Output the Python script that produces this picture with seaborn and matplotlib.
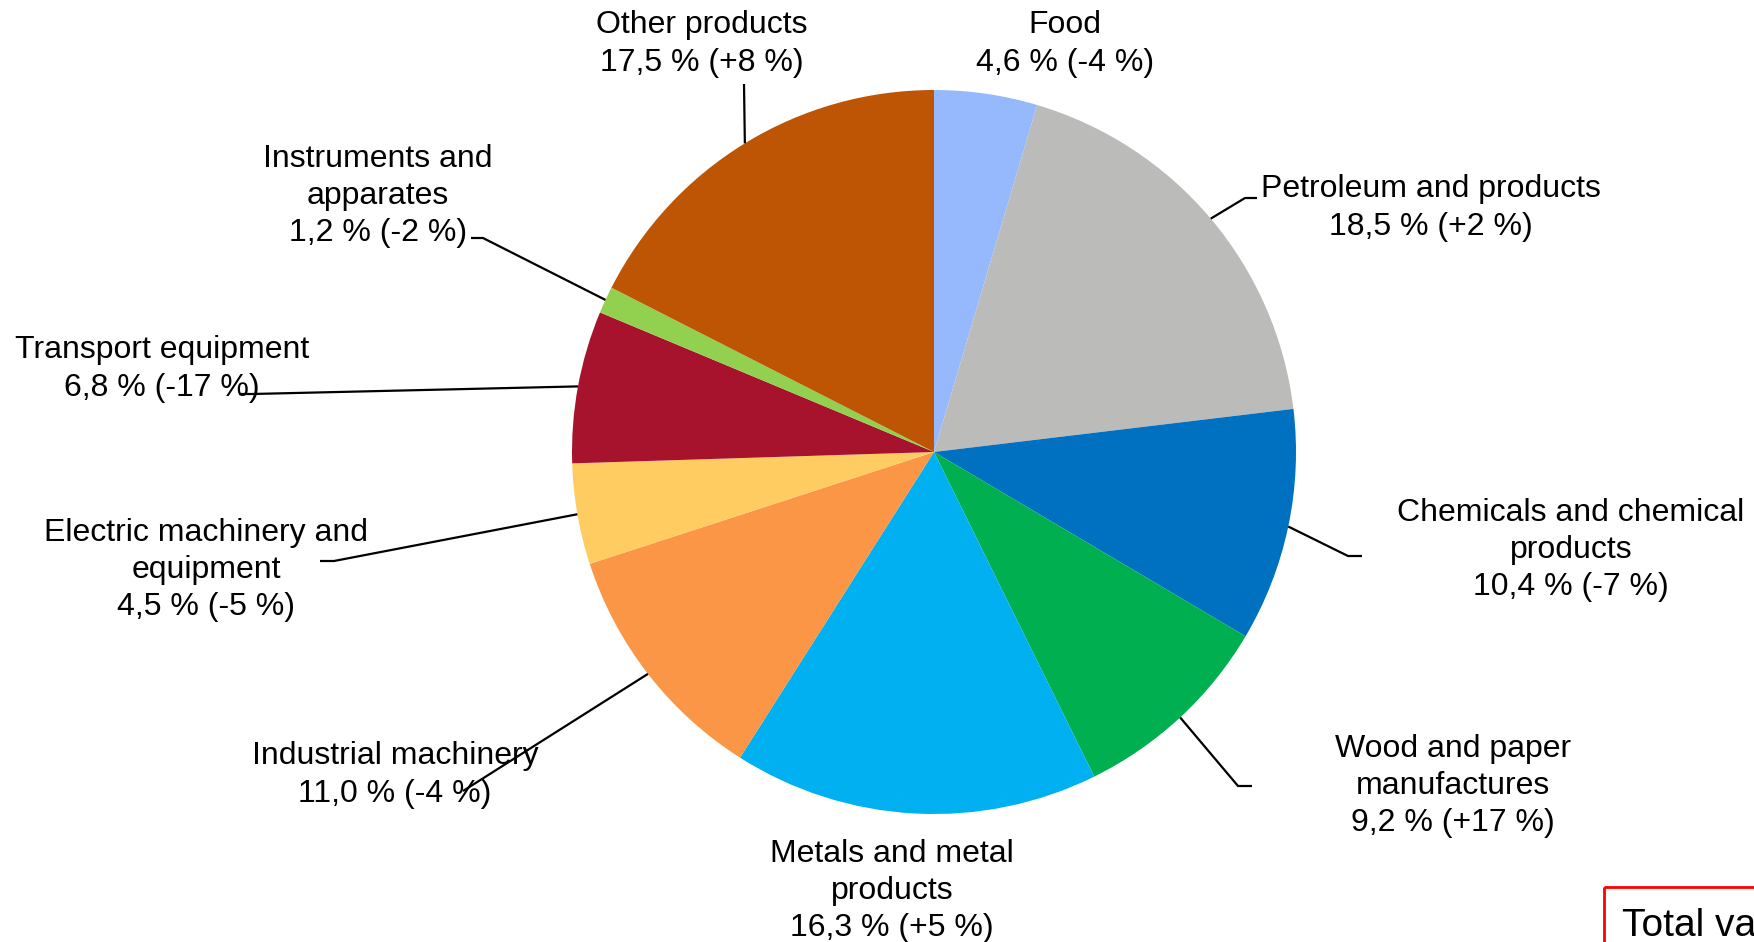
import numpy as np
import matplotlib
matplotlib.use("Agg")
import matplotlib.pyplot as plt
import seaborn as sns

# ---- data ----
categories = ["Food", "Petroleum and products", "Chemicals and chemical\nproducts",
              "Wood and paper\nmanufactures", "Metals and metal\nproducts",
              "Industrial machinery", "Electric machinery and\nequipment",
              "Transport equipment", "Instruments and\napparates", "Other products"]
shares = [4.6, 18.5, 10.4, 9.2, 16.3, 11.0, 4.5, 6.8, 1.2, 17.5]
changes = [-4, 2, -7, 17, 5, -4, -5, -17, -2, 8]
colors = ["#95B9FC", "#BBBCBA", "#0070C0", "#00AF50", "#00B0F0",
          "#FB9646", "#FECC61", "#A7132D", "#92D050", "#BE5504"]
box_text = "Total value"

# ---- layout (pixel coordinates, y downward) ----
W, H = 1754, 942
cx, cy, R = 934, 452, 362
label_pos = [(1065, 44), (1431, 208), (1571, 550), (1453, 786), (892, 891),
             (395, 775), (206, 570), (162, 369), (378, 196), (702, 44)]
leader_pts = [None,
              [(1245, 198), (1257, 198)],
              [(1348, 556), (1362, 556)],
              [(1238, 786), (1252, 786)],
              None,
              [(463, 791)],
              [(334, 561), (320, 561)],
              [(252, 394), (239, 394)],
              [(483, 238), (471, 238)],
              [(744, 84)]]

sns.set_theme(style="white")
plt.rcParams["font.family"] = ["Liberation Sans", "DejaVu Sans"]
pal = sns.color_palette(colors)

fig = plt.figure(figsize=(W / 100, H / 100), dpi=100)
ax = fig.add_axes([0, 0, 1, 1])
ax.pie(shares, colors=pal, startangle=-90, counterclock=True,
       center=(cx, cy), radius=R, wedgeprops=dict(linewidth=0))
ax.set_xlim(0, W)
ax.set_ylim(H, 0)
ax.set_aspect("equal")
ax.axis("off")

cum = np.concatenate([[0], np.cumsum(shares)[:-1]])
total = float(np.sum(shares))
for i, (name, s, c) in enumerate(zip(categories, shares, changes)):
    sign = "+" if c > 0 else ""
    label = f"{name}\n" + f"{s:.1f}".replace(".", ",") + f" % ({sign}{c} %)"
    x, y = label_pos[i]
    ax.text(x, y, label, ha="center", va="center", multialignment="center",
            fontsize=23, color="black", linespacing=1.32)
    if leader_pts[i] is not None:
        th = 2 * np.pi * (cum[i] + s / 2) / total
        ex, ey = cx + R * np.sin(th), cy - R * np.cos(th)
        xs = [ex] + [p[0] for p in leader_pts[i]]
        ys = [ey] + [p[1] for p in leader_pts[i]]
        ax.plot(xs, ys, color="black", lw=1.6, solid_capstyle="butt")

# partially visible box at bottom right
ax.add_patch(plt.Rectangle((1604, 887), 300, 200, fill=False, edgecolor="#FF0000",
                           lw=2, clip_on=True))
ax.text(1622, 936, box_text, ha="left", va="baseline", fontsize=28,
        color="black", clip_on=True)

fig.savefig("out.png", dpi=100)
